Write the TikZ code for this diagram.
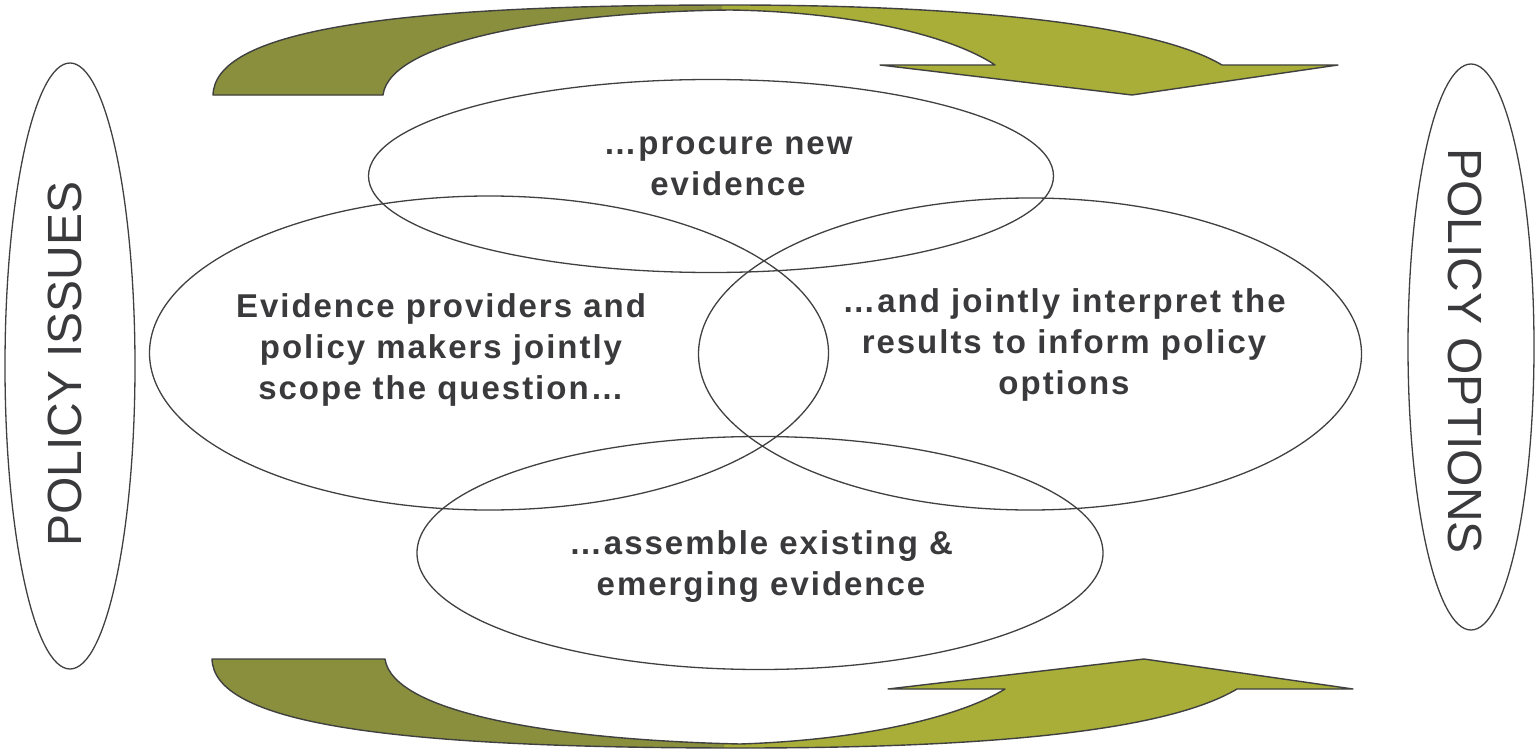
\documentclass[tikz,border=0pt]{standalone}
\usepackage{fontspec}
\setmainfont{Liberation Sans}
\newfontfamily\bubblefont[LetterSpace=6]{Liberation Sans}
\usepackage{xcolor}
\usetikzlibrary{shapes.geometric}

\definecolor{olivedark}{RGB}{138,143,62}
\definecolor{olivelight}{RGB}{168,174,56}
\definecolor{inkgray}{RGB}{58,58,60}
\definecolor{linegray}{RGB}{64,64,64}

% outlines of the two curved arrows (picture units, y grows downwards)
\newcommand{\toparrow}{(213,95) -- (383,95)
    .. controls (390,40) and (560,12) .. (730,10)
    .. controls (860,12) and (955,38) .. (995,65)
    -- (880,65) -- (1132,95) -- (1338,65) -- (1222,65)
    .. controls (1150,22) and (950,5) .. (730,5)
    .. controls (380,5) and (215,32) .. cycle}
\newcommand{\bottomarrow}{(212,659) -- (385,659)
    .. controls (393,714) and (560,740) .. (740,744)
    .. controls (865,740) and (962,716) .. (1005,689)
    -- (888,689) -- (1144,659) -- (1353,689) -- (1237,689)
    .. controls (1160,735) and (960,748) .. (740,748)
    .. controls (380,748) and (214,722) .. cycle}

\begin{document}
\begin{tikzpicture}[x=1pt, y=-1pt,
    bubble/.style={ellipse, draw=linegray, line width=1.3pt, inner sep=0pt},
    bubbletext/.style={align=center, inner sep=0pt, text=inkgray,
        font=\bubblefont\bfseries\fontsize{33}{41}\selectfont},
    sidetext/.style={inner sep=0pt, text=inkgray, font=\fontsize{48}{50}\selectfont},
    loop/.style={draw=linegray, line width=1.4pt, line join=round}]
    \useasboundingbox (0,0) rectangle (1537,752);

    % top arrow: light body, dark tail
    \fill[olivelight] \toparrow;
    \begin{scope}
        \clip (0,0) rectangle (722,120);
        \fill[olivedark] \toparrow;
    \end{scope}
    \draw[loop] \toparrow;

    % bottom arrow
    \fill[olivelight] \bottomarrow;
    \begin{scope}
        \clip (0,630) rectangle (724,752);
        \fill[olivedark] \bottomarrow;
    \end{scope}
    \draw[loop] \bottomarrow;

    % side ellipses
    \node (issues) at (70,366) [bubble, minimum width=130pt, minimum height=606pt] {};
    \node (options) at (1471,347) [bubble, minimum width=126pt, minimum height=566pt] {};
    \node (issues-txt) at (65,364) [sidetext, rotate=90] {POLICY ISSUES};
    \node (options-txt) at (1465,351) [sidetext, rotate=-90] {POLICY OPTIONS};

    % the four overlapping steps
    \node (procure) at (711,176) [bubble, minimum width=685pt, minimum height=193pt] {};
    \node (scope) at (489,353) [bubble, minimum width=679pt, minimum height=314pt] {};
    \node (interpret) at (1030,354) [bubble, minimum width=663pt, minimum height=312pt] {};
    \node (assemble) at (760,553) [bubble, minimum width=686pt, minimum height=233pt] {};

    \node (procure-txt) at (728,166) [bubbletext] {\dots procure new\\evidence};
    \node (scope-txt) at (441,350) [bubbletext] {Evidence providers and\\policy makers jointly\\scope the question\dots};
    \node (interpret-txt) at (1064,345) [bubbletext] {\dots and jointly interpret the\\results to inform policy\\options};
    \node (assemble-txt) at (761,567) [bubbletext] {\dots assemble existing \&\\emerging evidence};
\end{tikzpicture}
\end{document}
